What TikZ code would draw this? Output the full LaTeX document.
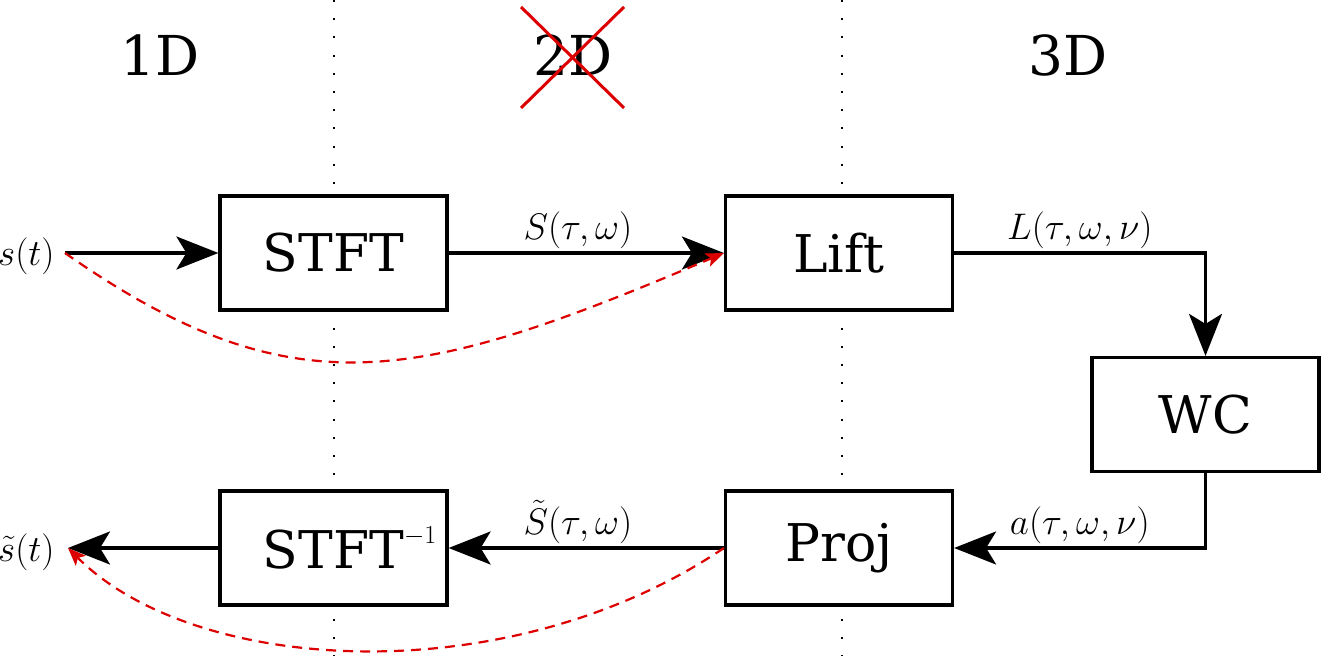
\documentclass[tikz,border=0pt]{standalone}
\usepackage{fix-cm}
\usepackage{fontspec}
\newfontfamily\dvserif{DejaVu Serif}
\usetikzlibrary{arrows.meta}
\definecolor{xred}{RGB}{221,0,0}
\begin{document}
\begin{tikzpicture}[x=1pt,y=1pt,
  box/.style={draw, line width=3.2pt, fill=white, minimum width=227pt, minimum height=114pt, inner sep=0pt, font=\dvserif\fontsize{52}{60}\selectfont},
  flow/.style={line width=3.2pt, -{Stealth[length=42pt,width=33pt,inset=10pt]}},
  backflow/.style={draw=xred, line width=2.2pt, dash pattern=on 10pt off 7pt, -{Stealth[length=18pt,width=14pt,inset=4pt]}},
  lbl/.style={font=\fontsize{37}{42}\selectfont, inner sep=3pt},
  sig/.style={font=\fontsize{37}{42}\selectfont, inner sep=0pt, anchor=base west},
  hdr/.style={font=\dvserif\fontsize{55}{62}\selectfont, anchor=base},
  sep/.style={line width=2pt, dash pattern=on 2pt off 16.2pt}
]
\useasboundingbox (0,0) rectangle (1322,656);
% separators
\draw[sep] (334,656) -- (334,0);
\draw[sep] (842,656) -- (842,0);
% headers
\node[hdr] (h1) at (160,580) {1D};
\node[hdr] (h2) at (573,580) {2D};
\node[hdr] (h3) at (1068,580) {3D};
\draw[xred, line width=3pt] (521,649) -- (624,548);
\draw[xred, line width=3pt] (521,548) -- (624,649);
% boxes
\node[box] (STFT) at (333.5,403) {STFT};
\node[box] (Lift) at (839,403) {Lift};
\node[box] (WC) at (1205.5,241.5) {WC};
\node[box] (Proj) at (839,108) {Proj};
\node[box] (STFTinv) at (333.5,108) {STFT\rlap{\raisebox{25pt}{\fontsize{26}{26}\selectfont$-1$}}};
% signals
\coordinate (sin) at (65,403);
\coordinate (sout) at (68,108);
\node[sig] (s) at (-2,390) {$s(t)$};
\node[sig] (st) at (-2,95) {$\tilde{s}(t)$};
% connectors
\draw[flow] (sin) -- (STFT.west);
\draw[flow] (STFT.east) -- node[lbl, above, pos=0.47] {$S(\tau,\omega)$} (Lift.west);
\draw[flow] (Lift.east) -- node[lbl, above] {$L(\tau,\omega,\nu)$} (Lift.east -| WC.north) -- (WC.north);
\draw[flow] (WC.south) |- node[lbl, above, pos=0.75] {$a(\tau,\omega,\nu)$} (Proj.east);
\draw[flow] (Proj.west) -- node[lbl, above, pos=0.53] {$\tilde{S}(\tau,\omega)$} (STFTinv.east);
\draw[flow] (STFTinv.west) -- (sout);
% dashed red
\draw[backflow] (sin) to[out=-35, in=203, out distance=280pt, in distance=330pt] (Lift.west);
\draw[backflow] (Proj.west) to[out=214, in=-45, out distance=260pt, in distance=180pt] (sout);
\end{tikzpicture}
\end{document}
